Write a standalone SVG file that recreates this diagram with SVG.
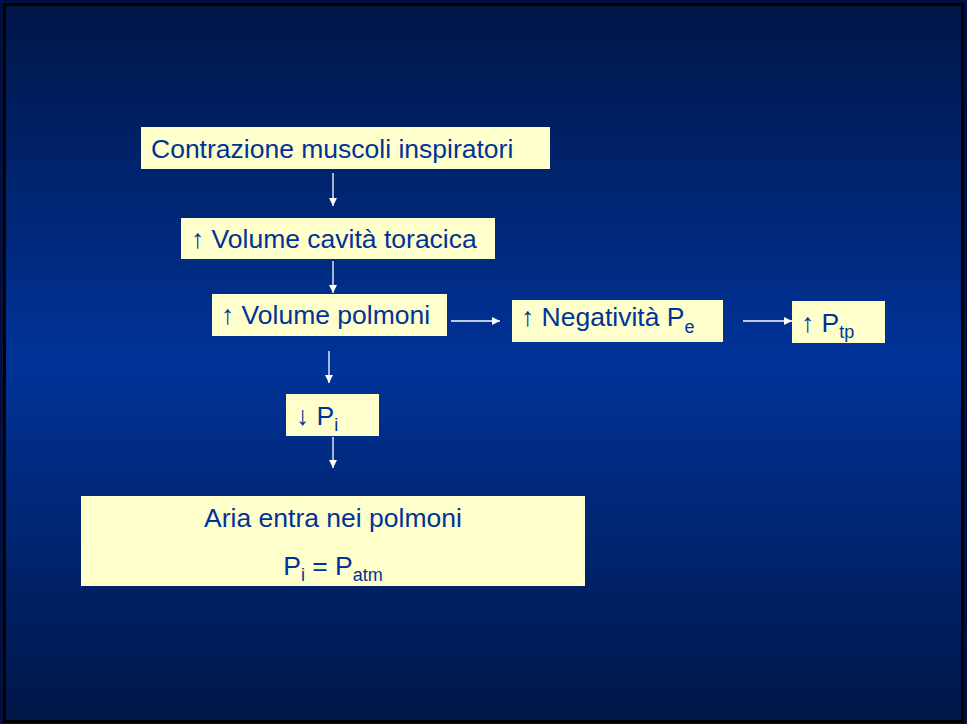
<svg xmlns="http://www.w3.org/2000/svg" width="967" height="724" viewBox="0 0 967 724">
<defs>
<linearGradient id="bg" x1="0" y1="0" x2="0" y2="1">
<stop offset="0" stop-color="#001647"/>
<stop offset="0.5" stop-color="#003399"/>
<stop offset="1" stop-color="#001647"/>
</linearGradient>
<marker id="ah" viewBox="0 0 10 10" refX="10" refY="5" markerWidth="8" markerHeight="8" markerUnits="userSpaceOnUse" orient="auto">
<path d="M0,0 L10,5 L0,10 z" fill="#ffffff"/>
</marker>
<style>
.box{fill:#ffffcc;}
.t{font-family:"Liberation Sans",Arial,sans-serif;font-size:26.5px;fill:#003399;}
.sub{font-size:18px;}
.c{stroke:#ffffff;stroke-width:1.3;fill:none;marker-end:url(#ah);}
</style>
</defs>
<rect x="0" y="0" width="967" height="724" fill="#001040"/>
<rect x="4.5" y="4.5" width="958" height="717" fill="url(#bg)" stroke="#000000" stroke-width="3"/>

<g id="connectors">
<line class="c" x1="333" y1="173" x2="333" y2="206"/>
<line class="c" x1="333" y1="261" x2="333" y2="293"/>
<line class="c" x1="451" y1="321" x2="500" y2="321"/>
<line class="c" x1="743" y1="321" x2="792" y2="321"/>
<line class="c" x1="329" y1="351" x2="329" y2="383"/>
<line class="c" x1="333" y1="437" x2="333" y2="468"/>
</g>

<g id="n1">
<rect class="box" x="141" y="127" width="409" height="42"/>
<text class="t" x="151" y="158">Contrazione muscoli inspiratori</text>
</g>
<g id="n2">
<rect class="box" x="181" y="218" width="314" height="41"/>
<text class="t" x="191" y="248">↑ Volume cavità toracica</text>
</g>
<g id="n3">
<rect class="box" x="212" y="294" width="235" height="42"/>
<text class="t" x="221" y="324">↑ Volume polmoni</text>
</g>
<g id="n4">
<rect class="box" x="512" y="300" width="211" height="42"/>
<text class="t" x="521" y="326">↑ Negatività P<tspan class="sub" dy="7">e</tspan></text>
</g>
<g id="n5">
<rect class="box" x="792" y="301" width="93" height="42"/>
<text class="t" x="801" y="332">↑ P<tspan class="sub" dy="6">tp</tspan></text>
</g>
<g id="n6">
<rect class="box" x="286" y="394" width="93" height="42"/>
<text class="t" x="296" y="425">↓ P<tspan class="sub" dy="6">i</tspan></text>
</g>
<g id="n7">
<rect class="box" x="81" y="496" width="504" height="90"/>
<text class="t" x="333" y="527" text-anchor="middle">Aria entra nei polmoni</text>
<text class="t" x="333" y="575" text-anchor="middle">P<tspan class="sub" dy="6">i</tspan><tspan dy="-6"> = P</tspan><tspan class="sub" dy="6">atm</tspan></text>
</g>
</svg>
